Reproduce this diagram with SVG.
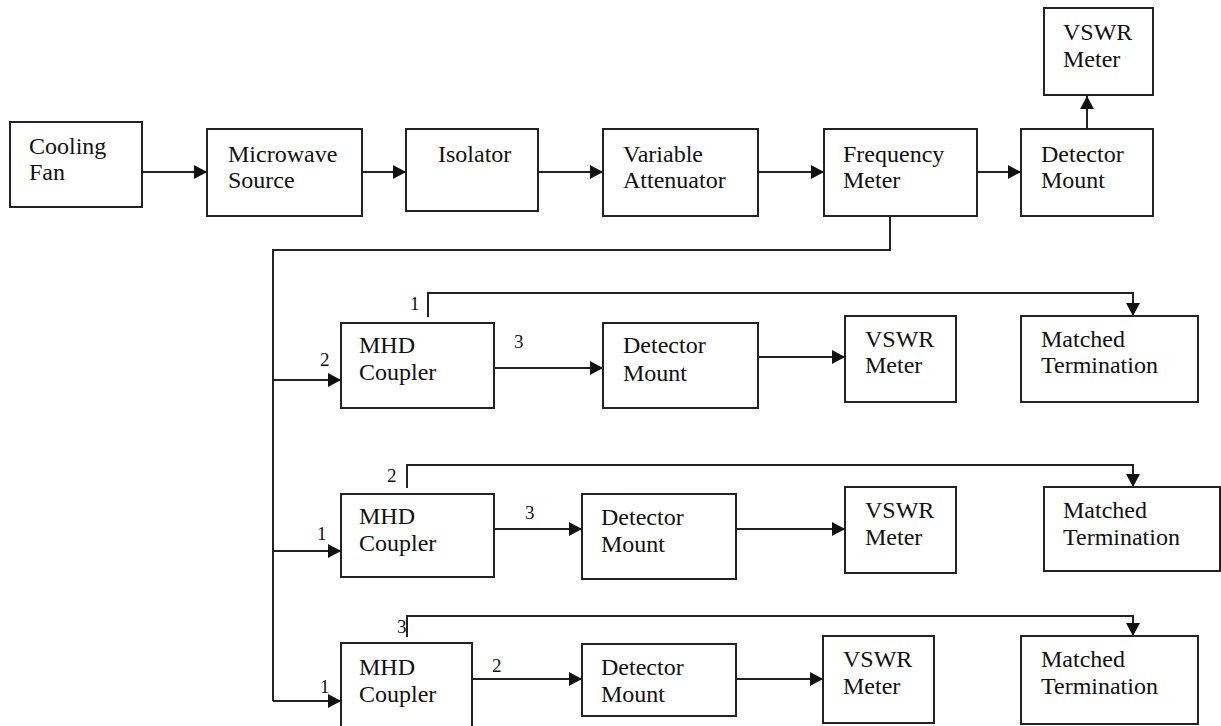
<svg xmlns="http://www.w3.org/2000/svg" width="1221" height="726" viewBox="0 0 1221 726">
<style>
.box{fill:#fff;stroke:#222;stroke-width:2}
.t{font-family:'Liberation Serif','Times New Roman','DejaVu Serif',serif;font-size:24px;fill:#111}
.n{font-family:'Liberation Serif','Times New Roman','DejaVu Serif',serif;font-size:19px;fill:#111}
.c{fill:none;stroke:#222;stroke-width:2}
.a{marker-end:url(#arr)}
</style>
<defs>
<marker id="arr" markerUnits="userSpaceOnUse" markerWidth="14" markerHeight="14" refX="13" refY="7" orient="auto">
<path d="M0,0 L13,7 L0,14 z" fill="#111"/>
</marker>
</defs>
<rect width="1221" height="726" fill="#fff"/>
<g id="connectors">
<line class="c a" x1="142" y1="172" x2="207" y2="172"/>
<line class="c a" x1="362" y1="172" x2="406" y2="172"/>
<line class="c a" x1="538" y1="172" x2="603" y2="172"/>
<line class="c a" x1="758" y1="172" x2="824" y2="172"/>
<line class="c a" x1="977" y1="172" x2="1021" y2="172"/>
<line class="c a" x1="1087" y1="137" x2="1087" y2="96"/>
<polyline class="c" points="890,208 890,250 273,250 273,701"/>
<line class="c a" x1="273" y1="380" x2="341" y2="380"/>
<line class="c a" x1="273" y1="551" x2="341" y2="551"/>
<line class="c a" x1="273" y1="701" x2="341" y2="701"/>
<polyline class="c a" points="428,317 428,293 1133,293 1133,316"/>
<polyline class="c a" points="407,488 407,465 1133,465 1133,487"/>
<polyline class="c a" points="407,637 407,616 1133,616 1133,636"/>
<line class="c a" x1="494" y1="368" x2="603" y2="368"/>
<line class="c a" x1="758" y1="357" x2="845" y2="357"/>
<line class="c a" x1="494" y1="529" x2="582" y2="529"/>
<line class="c a" x1="736" y1="529" x2="845" y2="529"/>
<line class="c a" x1="472" y1="679" x2="582" y2="679"/>
<line class="c a" x1="736" y1="679" x2="823" y2="679"/>
<text class="n" x="320" y="366">2</text>
<text class="n" x="410" y="310">1</text>
<text class="n" x="514" y="348">3</text>
<text class="n" x="317" y="540">1</text>
<text class="n" x="387" y="482">2</text>
<text class="n" x="525" y="519">3</text>
<text class="n" x="320" y="693">1</text>
<text class="n" x="397" y="633">3</text>
<text class="n" x="492" y="672">2</text>
</g>
<g id="cooling-fan"><rect class="box" x="10" y="122" width="132" height="85"/><text class="t" x="29" y="154">Cooling</text><text class="t" x="29" y="180">Fan</text></g>
<g id="microwave-source"><rect class="box" x="207" y="129" width="155" height="87"/><text class="t" x="228" y="162">Microwave</text><text class="t" x="228" y="188">Source</text></g>
<g id="isolator"><rect class="box" x="406" y="129" width="132" height="82"/><text class="t" x="438" y="162">Isolator</text></g>
<g id="variable-attenuator"><rect class="box" x="603" y="129" width="155" height="87"/><text class="t" x="623" y="162">Variable</text><text class="t" x="623" y="188">Attenuator</text></g>
<g id="frequency-meter"><rect class="box" x="824" y="129" width="153" height="87"/><text class="t" x="843" y="162">Frequency</text><text class="t" x="843" y="188">Meter</text></g>
<g id="detector-mount-top"><rect class="box" x="1021" y="129" width="132" height="87"/><text class="t" x="1041" y="162">Detector</text><text class="t" x="1041" y="188">Mount</text></g>
<g id="vswr-top"><rect class="box" x="1044" y="8" width="109" height="87"/><text class="t" x="1063" y="40">VSWR</text><text class="t" x="1063" y="67">Meter</text></g>
<g id="mhd1"><rect class="box" x="341" y="323" width="153" height="85"/><text class="t" x="359" y="353">MHD</text><text class="t" x="359" y="380">Coupler</text></g>
<g id="det1"><rect class="box" x="603" y="323" width="155" height="85"/><text class="t" x="623" y="353">Detector</text><text class="t" x="623" y="381">Mount</text></g>
<g id="vswr1"><rect class="box" x="845" y="316" width="111" height="86"/><text class="t" x="865" y="347">VSWR</text><text class="t" x="865" y="373">Meter</text></g>
<g id="mt1"><rect class="box" x="1021" y="316" width="177" height="86"/><text class="t" x="1041" y="347">Matched</text><text class="t" x="1041" y="373">Termination</text></g>
<g id="mhd2"><rect class="box" x="341" y="494" width="153" height="83"/><text class="t" x="359" y="524">MHD</text><text class="t" x="359" y="551">Coupler</text></g>
<g id="det2"><rect class="box" x="582" y="494" width="154" height="85"/><text class="t" x="601" y="525">Detector</text><text class="t" x="601" y="552">Mount</text></g>
<g id="vswr2"><rect class="box" x="845" y="487" width="111" height="86"/><text class="t" x="865" y="518">VSWR</text><text class="t" x="865" y="545">Meter</text></g>
<g id="mt2"><rect class="box" x="1044" y="487" width="176" height="84"/><text class="t" x="1063" y="518">Matched</text><text class="t" x="1063" y="545">Termination</text></g>
<g id="mhd3"><rect class="box" x="341" y="643" width="131" height="90"/><text class="t" x="359" y="675">MHD</text><text class="t" x="359" y="702">Coupler</text></g>
<g id="det3"><rect class="box" x="582" y="644" width="154" height="72"/><text class="t" x="601" y="675">Detector</text><text class="t" x="601" y="702">Mount</text></g>
<g id="vswr3"><rect class="box" x="823" y="636" width="111" height="87"/><text class="t" x="843" y="667">VSWR</text><text class="t" x="843" y="694">Meter</text></g>
<g id="mt3"><rect class="box" x="1021" y="636" width="177" height="88"/><text class="t" x="1041" y="667">Matched</text><text class="t" x="1041" y="694">Termination</text></g>
</svg>
